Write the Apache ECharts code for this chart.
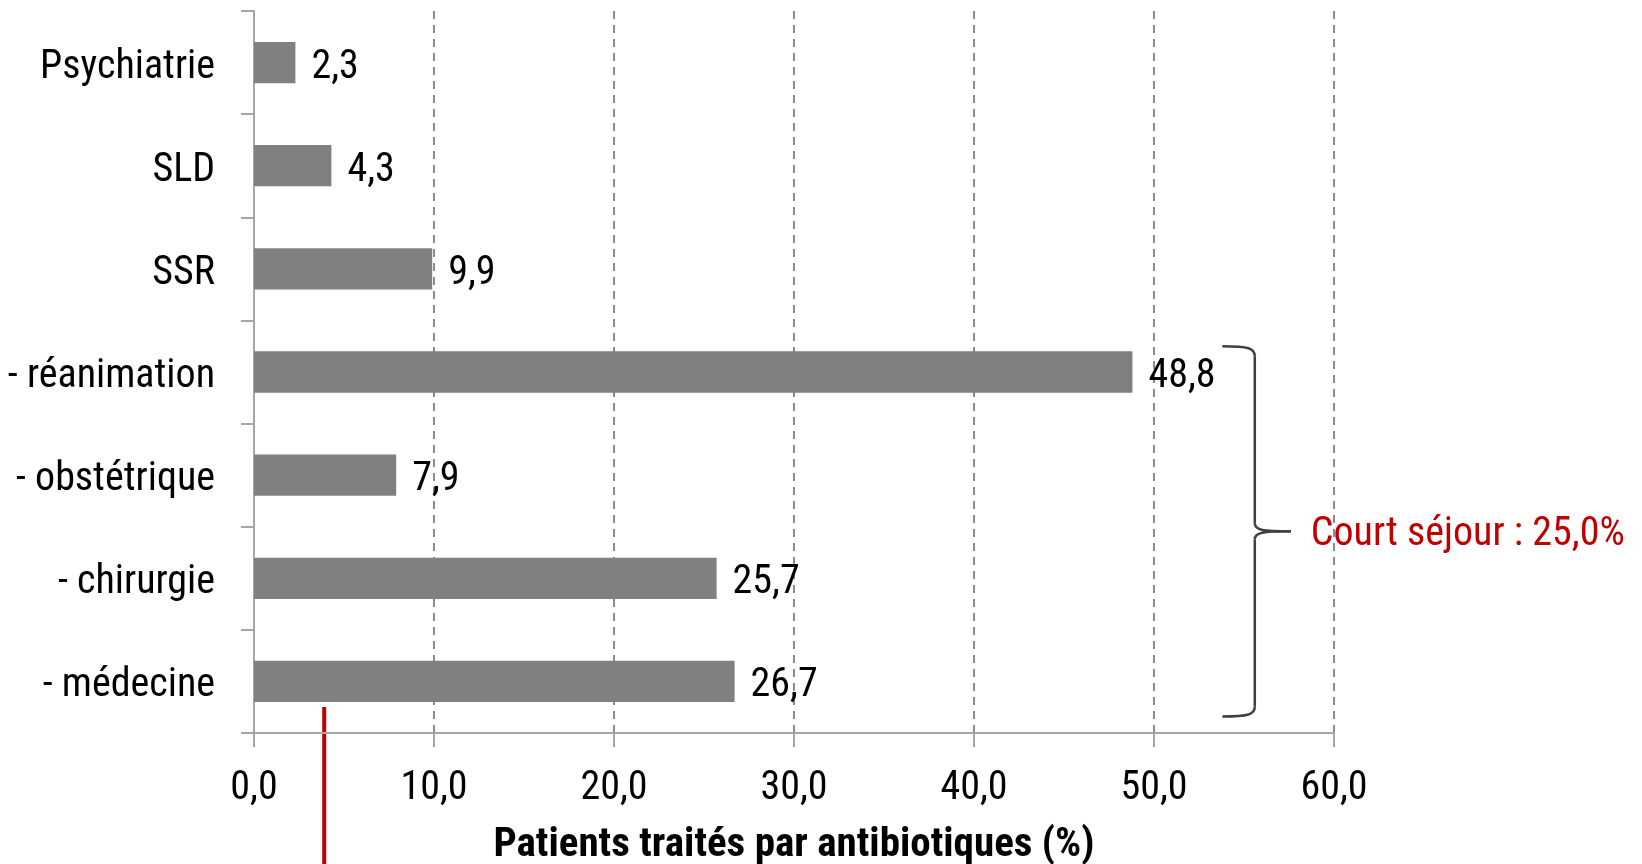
<!DOCTYPE html>
<html>
<head>
<meta charset="utf-8">
<script src="https://cdn.jsdelivr.net/npm/echarts@6/dist/echarts.min.js"></script>
<style>
html,body{margin:0;padding:0;background:#fff;}
#chart{width:1642px;height:864px;}
</style>
</head>
<body>
<div id="chart"></div>
<script>
const categories = ['Psychiatrie', 'SLD', 'SSR', '- réanimation', '- obstétrique', '- chirurgie', '- médecine'];
const values = [2.3, 4.3, 9.9, 48.8, 7.9, 25.7, 26.7];
const xTicks = { min: 0, max: 60, interval: 10 };
const axisTitle = 'Patients traités par antibiotiques (%)';
const braceLabel = 'Court séjour : 25,0%';
const braceFrom = 3, braceTo = 6;
const redLineValue = 3.9;

const FONT = "'Roboto Condensed', 'Liberation Sans Narrow', sans-serif";
const FS = 40;
const FW = 400;
const fmt = v => v.toFixed(1).replace('.', ',');
const txt = { fontFamily: FONT, fontSize: FS, fontWeight: FW, color: '#000' };

const chart = echarts.init(document.getElementById('chart'));
chart.setOption({
  animation: false,
  backgroundColor: '#fff',
  grid: { left: 254, right: 308, top: 11, bottom: 131, containLabel: false, outerBoundsMode: 'none' },
  xAxis: {
    type: 'value', min: xTicks.min, max: xTicks.max, interval: xTicks.interval,
    name: axisTitle, nameLocation: 'middle', nameGap: 92,
    nameTextStyle: { fontFamily: FONT, fontSize: 41, fontWeight: 'bold', color: '#000' },
    axisLine: { show: true, lineStyle: { color: '#a6a6a6', width: 2 } },
    axisTick: { show: true, length: 14, lineStyle: { color: '#a6a6a6', width: 2 } },
    axisLabel: Object.assign({ margin: 36, formatter: v => fmt(v) }, txt),
    splitLine: { show: true, lineStyle: { color: '#8c8c8c', width: 2, type: [8, 6] } }
  },
  yAxis: {
    type: 'category', data: categories, inverse: true,
    axisLine: { show: true, lineStyle: { color: '#a6a6a6', width: 2 } },
    axisTick: { show: true, length: 13, lineStyle: { color: '#a6a6a6', width: 2 } },
    axisLabel: Object.assign({ margin: 39, formatter: v => '{a|' + v + '}', rich: { a: Object.assign({ padding: [10, 0, 0, 0] }, txt) } }, txt),
    splitLine: { show: false }
  },
  series: [{
    type: 'bar', data: values, barWidth: '40%',
    itemStyle: { color: '#808080' },
    label: Object.assign({ show: true, position: 'right', distance: 16, offset: [0, 5], formatter: p => fmt(p.value) }, txt)
  }]
});

function drawAnnotations() {
  const g = { xAxisIndex: 0, yAxisIndex: 0 };
  const px = v => chart.convertToPixel(g, [v, 0])[0];
  const cy = i => chart.convertToPixel(g, [0, i])[1];
  const band = cy(1) - cy(0);
  const xL = px(53.8), xV = px(55.6), xT = px(57.6);
  const yT = cy(braceFrom) - band * 0.25;
  const yB = cy(braceTo) + band * 0.34;
  const yM = (yT + yB) / 2;
  const st = { stroke: '#404040', lineWidth: 2.5, fill: null };
  const axisBottom = cy(categories.length - 1) + band / 2;
  chart.setOption({
    graphic: [
      { type: 'bezierCurve', shape: { x1: xL, y1: yT, cpx1: xV - 6, cpy1: yT, cpx2: xV, cpy2: yT + 2, x2: xV, y2: yT + 10 }, style: st, silent: true },
      { type: 'line', shape: { x1: xV, y1: yT + 10, x2: xV, y2: yM - 8 }, style: st, silent: true },
      { type: 'bezierCurve', shape: { x1: xV, y1: yM - 8, cpx1: xV, cpy1: yM - 1, cpx2: xV + 8, cpy2: yM, x2: xT, y2: yM }, style: st, silent: true },
      { type: 'bezierCurve', shape: { x1: xT, y1: yM, cpx1: xV + 8, cpy1: yM, cpx2: xV, cpy2: yM + 1, x2: xV, y2: yM + 8 }, style: st, silent: true },
      { type: 'line', shape: { x1: xV, y1: yM + 8, x2: xV, y2: yB - 10 }, style: st, silent: true },
      { type: 'bezierCurve', shape: { x1: xV, y1: yB - 10, cpx1: xV, cpy1: yB - 2, cpx2: xV - 6, cpy2: yB, x2: xL, y2: yB }, style: st, silent: true },
      { type: 'text', x: xT + 20, y: yM + 4, style: { text: braceLabel, font: FW + ' ' + FS + 'px ' + FONT, fill: '#c00000', verticalAlign: 'middle', align: 'left' }, silent: true },
      { type: 'line', shape: { x1: px(redLineValue), y1: axisBottom - 26, x2: px(redLineValue), y2: 864 }, style: { stroke: '#c00000', lineWidth: 4 }, silent: true }
    ]
  });
}
drawAnnotations();
</script>
</body>
</html>
